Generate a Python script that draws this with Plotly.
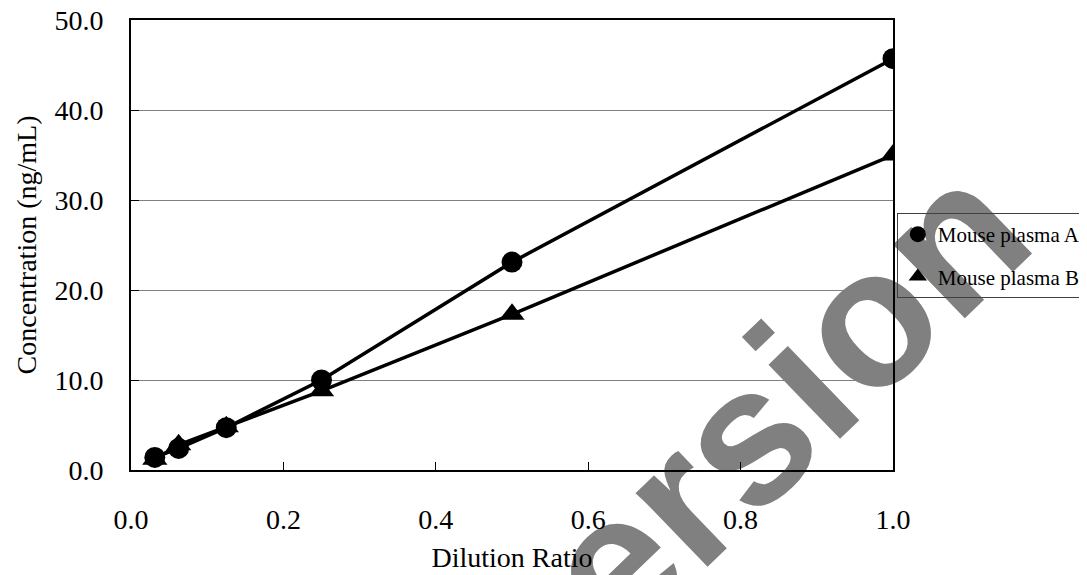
import plotly.graph_objects as go

dilution = [1/32, 1/16, 1/8, 1/4, 1/2, 1.0]
plasma_a = [1.4, 2.4, 4.7, 10.0, 23.1, 45.7]
plasma_b = [1.2, 2.8, 4.8, 8.8, 17.3, 35.0]
series_names = ["Mouse plasma A", "Mouse plasma B"]
x_ticks = [0.0, 0.2, 0.4, 0.6, 0.8, 1.0]
y_ticks = [0, 10, 20, 30, 40, 50]

FONT = "Liberation Serif, Times New Roman, serif"

fig = go.Figure()
# connecting lines (no legend)
for ys in (plasma_a, plasma_b):
    fig.add_trace(go.Scatter(
        x=dilution, y=ys, mode="lines", showlegend=False, hoverinfo="skip",
        line=dict(color="black", width=3.5),
    ))
# markers (legend entries)
fig.add_trace(go.Scatter(
    x=dilution, y=plasma_a, name=series_names[0], mode="markers",
    legendgroup="a",
    marker=dict(symbol="circle", size=21, color="black"),
))
fig.add_trace(go.Scatter(
    x=dilution, y=plasma_b, name=series_names[1], mode="markers",
    legendgroup="b",
    marker=dict(symbol="triangle-up", size=22, color="black"),
))

# watermark text (behind the plot content)
fig.add_shape(
    type="rect", xref="paper", yref="paper",
    x0=0.738, x1=0.838, y0=0.052, y1=0.152,
    line=dict(width=0), fillcolor="rgba(0,0,0,0)", layer="below",
    label=dict(text="version", textangle=-44, textposition="middle center",
               font=dict(family="Liberation Sans, Arial, sans-serif", size=195,
                         color="#808080", weight="bold")),
)

fig.update_layout(
    width=1087, height=575,
    margin=dict(l=123, r=202, t=12, b=113, autoexpand=False),
    paper_bgcolor="white", plot_bgcolor="rgba(0,0,0,0)",
    font=dict(family=FONT, color="black", size=28),
    showlegend=True,
    legend=dict(
        x=1.005, y=0.571, xanchor="left", yanchor="top",
        bordercolor="#404040", borderwidth=1, bgcolor="rgba(255,255,255,0)",
        font=dict(family=FONT, size=21, color="black"),
        itemsizing="trace", tracegroupgap=12,
    ),
)
fig.update_xaxes(
    range=[0, 1.0], tickvals=x_ticks, ticktext=[f"{v:.1f}" for v in x_ticks],
    showline=True, linecolor="black", linewidth=2, mirror=True,
    ticks="inside", ticklen=8, tickwidth=1, tickcolor="black",
    showgrid=False, zeroline=False, ticklabelstandoff=23, automargin=False,
    ticklabeloverflow="allow",
    title=dict(text="Dilution Ratio", font=dict(size=28), standoff=14),
    tickfont=dict(size=28),
)
fig.update_yaxes(
    range=[0, 50], tickvals=y_ticks, ticktext=[f"{v:.1f}" for v in y_ticks],
    showline=True, linecolor="black", linewidth=2, mirror=True,
    ticks="inside", ticklen=8, tickwidth=1, tickcolor="black",
    showgrid=True, gridcolor="#808080", gridwidth=1, zeroline=False,
    ticklabelstandoff=20, automargin=False, ticklabeloverflow="allow",
    title=dict(text="Concentration (ng/mL)", font=dict(size=28), standoff=10),
    tickfont=dict(size=28),
)

fig.write_html("out.html")
